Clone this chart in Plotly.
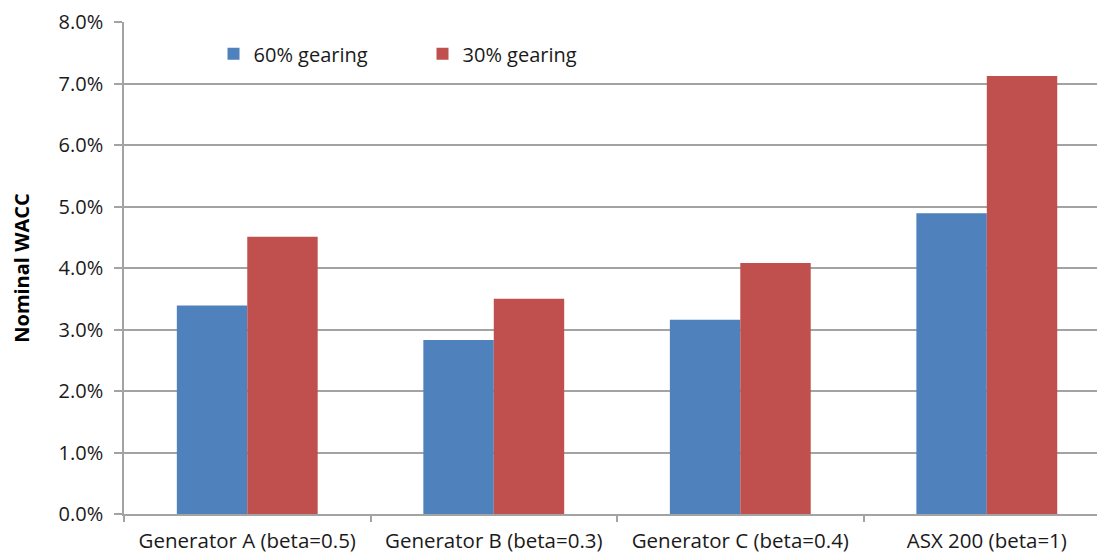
import plotly.graph_objects as go

# Nominal WACC by generator, under two gearing assumptions
categories = [
    "Generator A (beta=0.5)",
    "Generator B (beta=0.3)",
    "Generator C (beta=0.4)",
    "ASX 200 (beta=1)",
]
wacc_60_gearing = [0.0339, 0.0283, 0.0316, 0.0489]
wacc_30_gearing = [0.0451, 0.0350, 0.0408, 0.0712]
y_tick_values = [0.0, 0.01, 0.02, 0.03, 0.04, 0.05, 0.06, 0.07, 0.08]

FONT = "Open Sans"
TEXT = "#1a1a1a"
GRID = "#a3a3a3"

fig = go.Figure()
fig.add_trace(go.Bar(
    name="60% gearing", x=categories, y=wacc_60_gearing,
    marker=dict(color="#4F81BD", line=dict(width=0)),
))
fig.add_trace(go.Bar(
    name="30% gearing", x=categories, y=wacc_30_gearing,
    marker=dict(color="#C0504D", line=dict(width=0)),
))

fig.update_layout(
    width=1098, height=556,
    margin=dict(l=124, r=1, t=22, b=42),
    paper_bgcolor="white", plot_bgcolor="white",
    barmode="group", bargap=0.4286, bargroupgap=0,
    font=dict(family=FONT, size=20, color=TEXT),
    legend=dict(
        orientation="h", x=0.092, y=0.975, xanchor="left", yanchor="top",
        bgcolor="rgba(0,0,0,0)", font=dict(size=20, color=TEXT),
        entrywidth=164, itemwidth=30,
    ),
    xaxis=dict(
        type="category", range=[-0.5, 3.447], automargin=False,
        showline=True, linecolor=GRID, linewidth=1.5,
        ticks="outside", tickson="boundaries", ticklen=6,
        tickcolor=GRID, tickwidth=1.5,
        ticklabelstandoff=8, tickfont=dict(size=20.5),
        showgrid=False,
    ),
    yaxis=dict(
        range=[0, 0.08], tickvals=y_tick_values, tickformat=".1%",
        automargin=False,
        showline=True, linecolor=GRID, linewidth=1.5,
        ticks="outside", ticklen=8, tickcolor=GRID, tickwidth=1.5,
        ticklabelstandoff=7,
        showgrid=True, gridcolor=GRID, gridwidth=1.5,
        zeroline=False,
        title=dict(text="<b>Nominal WACC</b>", font=dict(size=20, color="black"),
                   standoff=24),
    ),
)

fig.write_html("out.html")
